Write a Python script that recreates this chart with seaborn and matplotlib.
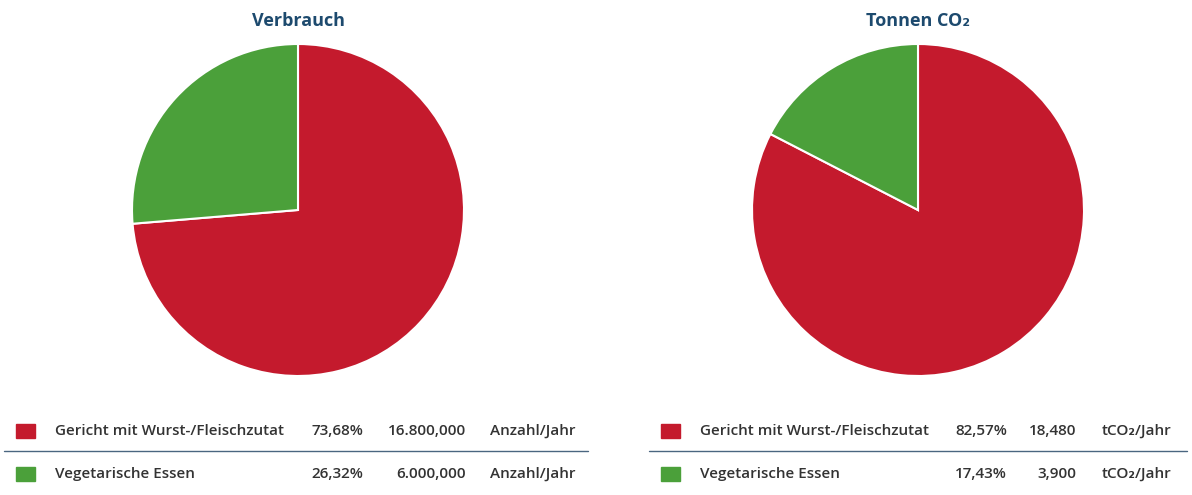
import matplotlib
matplotlib.use("Agg")
import matplotlib.pyplot as plt
import seaborn as sns

sns.set_theme(style="white")
plt.rcParams['font.family'] = ['Open Sans', 'DejaVu Sans']

# Data
titles = ["Verbrauch", "Tonnen CO₂"]
categories = ["Gericht mit Wurst-/Fleischzutat", "Vegetarische Essen"]
verbrauch_pct = [73.68, 26.32]
verbrauch_vals = ["16.800,000", "6.000,000"]
co2_pct = [82.57, 17.43]
co2_vals = ["18,480", "3,900"]
units = ["Anzahl/Jahr", "tCO₂/Jahr"]
pct_labels_left = ["73,68%", "26,32%"]
pct_labels_right = ["82,57%", "17,43%"]

colors = ["#c41a2d", "#4ba03a"]
title_color = "#1d4a6e"
text_color = "#333333"

W, H = 1192, 495
fig = plt.figure(figsize=(W / 100, H / 100), dpi=100)

def fx(x):
    return x / W

def fy(y):
    return 1 - y / H

panels = [
    dict(cx=298, title=titles[0], pct=verbrauch_pct, plabels=pct_labels_left,
         vals=verbrauch_vals, unit=units[0], sw=16, lab=55, pr=363, vr=466, ul=490,
         lx0=4, lx1=588),
    dict(cx=918, title=titles[1], pct=co2_pct, plabels=pct_labels_right,
         vals=co2_vals, unit=units[1], sw=661, lab=700, pr=1007, vr=1076, ul=1102,
         lx0=649, lx1=1187),
]

cy, r = 210, 166
fs = 11.0
for p in panels:
    ax = fig.add_axes([fx(p['cx'] - r), fy(cy + r), 2 * r / W, 2 * r / H])
    ax.pie(p['pct'], colors=colors, startangle=90, counterclock=False,
           wedgeprops=dict(edgecolor="white", linewidth=1.5))
    ax.set_xlim(-1, 1)
    ax.set_ylim(-1, 1)
    ax.set_aspect('equal')
    ax.axis('off')
    fig.text(fx(p['cx']), fy(21), p['title'], ha='center', va='center',
             fontsize=13, fontweight='bold', color=title_color)
    rows_y = [431, 474]
    for i, yy in enumerate(rows_y):
        fig.patches.append(plt.Rectangle((fx(p['sw']), fy(yy + 7)), 19 / W, 14 / H,
                                         transform=fig.transFigure, color=colors[i],
                                         figure=fig))
        for txt, xx, ha in [(categories[i], p['lab'], 'left'),
                            (p['plabels'][i], p['pr'], 'right'),
                            (p['vals'][i], p['vr'], 'right'),
                            (p['unit'], p['ul'], 'left')]:
            fig.text(fx(xx), fy(yy), txt, ha=ha, va='center',
                     fontsize=fs, color=text_color, fontweight='semibold')
    fig.add_artist(plt.Line2D([fx(p['lx0']), fx(p['lx1'])], [fy(451), fy(451)],
                              transform=fig.transFigure, color="#4a6680", linewidth=1))

fig.savefig("out.png", dpi=100, facecolor="white")
